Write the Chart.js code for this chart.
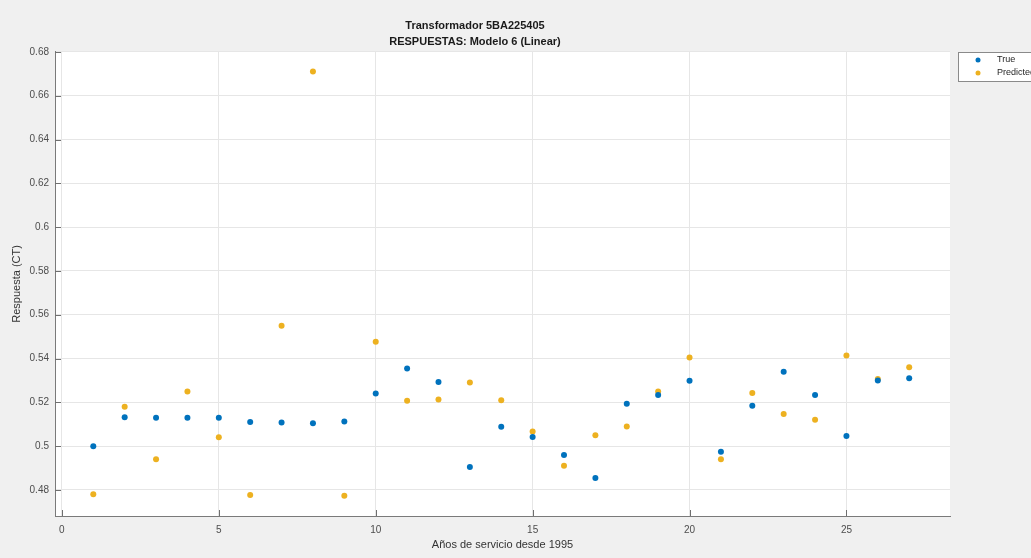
<!DOCTYPE html>
<html>
<head>
<meta charset="utf-8">
<title>Transformador 5BA225405</title>
<script src="https://cdn.jsdelivr.net/npm/chart.js@4.4.0/dist/chart.umd.min.js"></script>
<style>
  body { margin: 0; background: #f0f0f0; }
  #wrap { width: 1031px; height: 558px; }
</style>
</head>
<body>
<div id="wrap"><canvas id="chart" width="1031" height="558"></canvas></div>
<script>
// Data
const years = [1, 2, 3, 4, 5, 6, 7, 8, 9, 10, 11, 12, 13, 14, 15, 16, 17, 18, 19, 20, 21, 22, 23, 24, 25, 26, 27];
const trueVals = [0.500, 0.5132, 0.5130, 0.5130, 0.5130, 0.5110, 0.5108, 0.5104, 0.5113, 0.5240, 0.5355, 0.5293, 0.4905, 0.5088, 0.5042, 0.4960, 0.4855, 0.5193, 0.5234, 0.5298, 0.4974, 0.5184, 0.5340, 0.5234, 0.5046, 0.5300, 0.5310];
const predVals = [0.4780, 0.5180, 0.4940, 0.5250, 0.5040, 0.4777, 0.5550, 0.6710, 0.4773, 0.5477, 0.5207, 0.5213, 0.5290, 0.5210, 0.5067, 0.4910, 0.5050, 0.5090, 0.5250, 0.5405, 0.4940, 0.5243, 0.5147, 0.5120, 0.5414, 0.5307, 0.5360];
const xTicks = [0, 5, 10, 15, 20, 25];
const yTicks = [0.48, 0.50, 0.52, 0.54, 0.56, 0.58, 0.60, 0.62, 0.64, 0.66, 0.68];
const seriesNames = ['True', 'Predicted'];
const seriesColors = ['#0072BD', '#EDB120'];

const FONT = "'Liberation Sans', Arial, sans-serif";

// grey figure, white axes
const backgroundPlugin = {
    id: 'background',
    beforeDraw(chart) {
        const { ctx, chartArea: a } = chart;
        ctx.save();
        ctx.fillStyle = '#f0f0f0';
        ctx.fillRect(0, 0, chart.width, chart.height);
        ctx.fillStyle = '#ffffff';
        ctx.fillRect(a.left, a.top, a.right - a.left, a.bottom - a.top);
        ctx.restore();
    }
};

// MATLAB style inward ticks + legend box
const decorPlugin = {
    id: 'decor',
    afterDraw(chart) {
        const { ctx, chartArea: a } = chart;
        const xs = chart.scales.x;
        const ys = chart.scales.y;
        ctx.save();
        ctx.strokeStyle = '#6f6f6f';
        ctx.lineWidth = 1;
        ctx.beginPath();
        xTicks.forEach(v => {
            const px = Math.round(xs.getPixelForValue(v)) + 0.5;
            ctx.moveTo(px, a.bottom);
            ctx.lineTo(px, a.bottom - 6);
        });
        yTicks.forEach(v => {
            const py = Math.round(ys.getPixelForValue(v)) + 0.5;
            ctx.moveTo(a.left, py);
            ctx.lineTo(a.left + 6, py);
        });
        ctx.stroke();

        // legend
        ctx.fillStyle = '#ffffff';
        ctx.fillRect(958.5, 52.5, 90, 29);
        ctx.strokeStyle = '#8a8a8a';
        ctx.strokeRect(958.5, 52.5, 90, 29);
        ctx.font = '9px ' + FONT;
        ctx.textBaseline = 'middle';
        ctx.textAlign = 'left';
        chart.data.datasets.forEach((ds, i) => {
            const y = 60 + i * 13;
            ctx.fillStyle = ds.backgroundColor;
            ctx.beginPath();
            ctx.arc(978, y, 2.5, 0, Math.PI * 2);
            ctx.fill();
            ctx.fillStyle = '#262626';
            ctx.fillText(ds.label, 997, y);
        });
        ctx.restore();
    }
};

new Chart(document.getElementById('chart'), {
    type: 'scatter',
    data: {
        datasets: [
            {
                label: seriesNames[0],
                data: years.map((x, i) => ({ x: x, y: trueVals[i] })),
                backgroundColor: seriesColors[0],
                borderWidth: 0,
                pointRadius: 3,
                pointHoverRadius: 3
            },
            {
                label: seriesNames[1],
                data: years.map((x, i) => ({ x: x, y: predVals[i] })),
                backgroundColor: seriesColors[1],
                borderWidth: 0,
                pointRadius: 3,
                pointHoverRadius: 3
            }
        ]
    },
    options: {
        responsive: false,
        animation: false,
        layout: { padding: { top: 0, right: 81, bottom: 0, left: 0 } },
        plugins: {
            legend: { display: false },
            tooltip: { enabled: false },
            title: {
                display: true,
                text: ['Transformador 5BA225405', 'RESPUESTAS: Modelo 6 (Linear)'],
                color: '#1a1a1a',
                font: { family: FONT, size: 11, weight: 'bold', lineHeight: 1.45 },
                padding: { top: 18, bottom: 2 }
            }
        },
        scales: {
            x: {
                type: 'linear',
                min: -0.22,
                max: 28.3,
                afterBuildTicks: s => { s.ticks = xTicks.map(v => ({ value: v })); },
                afterFit: s => { s.height = 42; },
                ticks: {
                    color: '#4d4d4d',
                    padding: 8,
                    font: { family: FONT, size: 10 }
                },
                grid: { color: '#e6e6e6', drawTicks: false },
                border: { color: '#7a7a7a' },
                title: {
                    display: true,
                    text: 'Años de servicio desde 1995',
                    color: '#333333',
                    font: { family: FONT, size: 11 },
                    padding: { top: 0, bottom: 6 }
                }
            },
            y: {
                type: 'linear',
                min: 0.4681,
                max: 0.68,
                afterBuildTicks: s => { s.ticks = yTicks.map(v => ({ value: v })); },
                afterFit: s => { s.width = 55; },
                ticks: {
                    color: '#4d4d4d',
                    padding: 6,
                    font: { family: FONT, size: 10 },
                    callback: v => String(+v.toFixed(2))
                },
                grid: { color: '#e6e6e6', drawTicks: false },
                border: { color: '#7a7a7a' },
                title: {
                    display: true,
                    text: 'Respuesta (CT)',
                    color: '#333333',
                    font: { family: FONT, size: 11 },
                    padding: { top: 10, bottom: 0 }
                }
            }
        }
    },
    plugins: [backgroundPlugin, decorPlugin]
});
</script>
</body>
</html>
